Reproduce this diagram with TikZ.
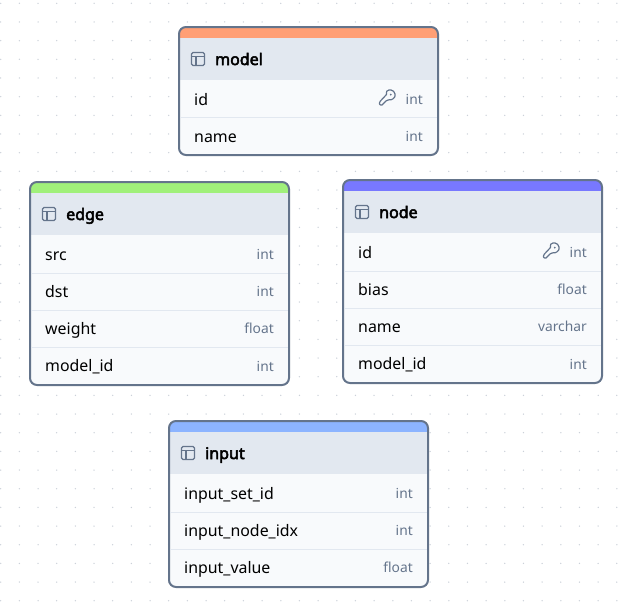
\documentclass[tikz,border=0pt]{standalone}
\usepackage{fontspec}
\setmainfont{Noto Sans}
\newfontfamily\titlefont{Noto Sans}[FakeBold=3.2]
\definecolor{slateline}{HTML}{64748B}
\definecolor{headfill}{HTML}{E2E8F0}
\definecolor{rowfill}{HTML}{F8FAFC}
\definecolor{griddot}{HTML}{CBD1D9}
\definecolor{modelbar}{HTML}{FF9F75}
\definecolor{edgebar}{HTML}{A0F07A}
\definecolor{nodebar}{HTML}{7878FF}
\definecolor{inputbar}{HTML}{8CB4FF}
\begin{document}
\begin{tikzpicture}[
    x=1pt, y=-1pt,
    % Table styles
    card/.style={draw=slateline, line width=2pt, rounded corners=7pt, fill=rowfill, minimum width=259pt, inner sep=0pt, outer sep=0pt, anchor=north west,
        path picture={
            \fill[#1, sharp corners] (path picture bounding box.north west) rectangle ([yshift=-10.5pt]path picture bounding box.north east);
            \fill[headfill, sharp corners] ([yshift=-10.5pt]path picture bounding box.north west) rectangle ([yshift=-53pt]path picture bounding box.north east);
        }},
    rowline/.style={draw=headfill, line width=1pt},
    % Text styles
    title/.style={font=\titlefont\fontsize{16}{18}\selectfont, text=black, anchor=base west, inner sep=0pt},
    colname/.style={font=\fontsize{15.9}{18}\selectfont, text=black, anchor=base west, inner sep=0pt},
    coltype/.style={font=\fontsize{13.8}{18}\selectfont, text=slateline, anchor=base east, inner sep=0pt},
    % Icons
    tableicon/.pic={
        \draw[slateline, line width=1.1pt, rounded corners=1.5pt] (-6.5,-6.5) rectangle (6.5,6.5);
        \draw[slateline, line width=1.1pt] (-6.5,-2.2) -- (6.5,-2.2) (-2,-2.2) -- (-2,6.5);
    },
    keyicon/.pic={
        \draw[slateline, line width=1.2pt, line join=round, rounded corners=1pt] (-0.5,-3.5) -- (-7.5,4) -- (-7.5,7) -- (-4,7) -- (-4,5) -- (-2,5) -- (-2,3) -- (-0.2,3) -- (1.2,1.5)
            .. controls (5,2.5) and (8,-0.5) .. (8,-3) .. controls (8,-6) and (5.5,-8) .. (3,-8) .. controls (0,-8) and (-1.5,-6) .. (-0.5,-3.5);
        \fill[slateline] (3.8,-3.4) circle (1pt);
    },
]
\useasboundingbox (0,0) rectangle (634,613);

% Dotted background
\foreach \i in {0,...,33} {
    \foreach \j in {0,...,32} {
        \fill[griddot] (0.7+18.67*\i, 3.3+18.67*\j) circle (0.75pt);
    }
}

% === MODEL ===
\begin{scope}[xshift=179pt, yshift=-27pt]
    \node[card=modelbar, minimum height=128pt] (model) at (0,0) {};
    \pic at (19,32) {tableicon};
    \node[title] (modeltitle) at (36,38) {model};
    \draw[rowline] (1,90.5) -- (258,90.5);
    \node[colname] (modelid) at (15,78) {id};
    \pic at (208,71) {keyicon};
    \node[coltype] (modelidtype) at (244,77) {int};
    \node[colname] (modelname) at (15,115) {name};
    \node[coltype] (modelnametype) at (244,114) {int};
\end{scope}

% === EDGE ===
\begin{scope}[xshift=30pt, yshift=-182pt]
    \node[card=edgebar, minimum height=203pt] (edge) at (0,0) {};
    \pic at (19,32) {tableicon};
    \node[title] (edgetitle) at (36,38) {edge};
    \draw[rowline] (1,91) -- (258,91);
    \draw[rowline] (1,128) -- (258,128);
    \draw[rowline] (1,165.5) -- (258,165.5);
    \node[colname] (edgesrc) at (15,78.6) {src};
    \node[coltype] (edgesrctype) at (244,77.6) {int};
    \node[colname] (edgedst) at (15,115.6) {dst};
    \node[coltype] (edgedsttype) at (244,114.6) {int};
    \node[colname] (edgeweight) at (15,152.6) {weight};
    \node[coltype] (edgeweighttype) at (244,151.6) {float};
    \node[colname] (edgemodel) at (15,189.6) {model\_id};
    \node[coltype] (edgemodeltype) at (244,189) {int};
\end{scope}

% === NODE ===
\begin{scope}[xshift=343pt, yshift=-180pt]
    \node[card=nodebar, minimum height=203pt] (nodetable) at (0,0) {};
    \pic at (19,32) {tableicon};
    \node[title] (nodetitle) at (36,38) {node};
    \draw[rowline] (1,91) -- (258,91);
    \draw[rowline] (1,128) -- (258,128);
    \draw[rowline] (1,165.5) -- (258,165.5);
    \node[colname] (nodeid) at (15,78) {id};
    \pic at (208,71) {keyicon};
    \node[coltype] (nodeidtype) at (244,77) {int};
    \node[colname] (nodebias) at (15,115.6) {bias};
    \node[coltype] (nodebiastype) at (244,114.6) {float};
    \node[colname] (nodename) at (15,152.6) {name};
    \node[coltype] (nodenametype) at (244,151.6) {varchar};
    \node[colname] (nodemodel) at (15,189.6) {model\_id};
    \node[coltype] (nodemodeltype) at (244,189) {int};
\end{scope}

% === INPUT ===
\begin{scope}[xshift=169pt, yshift=-421pt]
    \node[card=inputbar, minimum height=166pt] (input) at (0,0) {};
    \pic at (19,32) {tableicon};
    \node[title] (inputtitle) at (36,38) {input};
    \draw[rowline] (1,91) -- (258,91);
    \draw[rowline] (1,128) -- (258,128);
    \node[colname] (inputset) at (15,78) {input\_set\_id};
    \node[coltype] (inputsettype) at (244,77) {int};
    \node[colname] (inputnode) at (15,115.6) {input\_node\_idx};
    \node[coltype] (inputnodetype) at (244,114.6) {int};
    \node[colname] (inputvalue) at (15,152.6) {input\_value};
    \node[coltype] (inputvaluetype) at (244,151.6) {float};
\end{scope}

\end{tikzpicture}
\end{document}
